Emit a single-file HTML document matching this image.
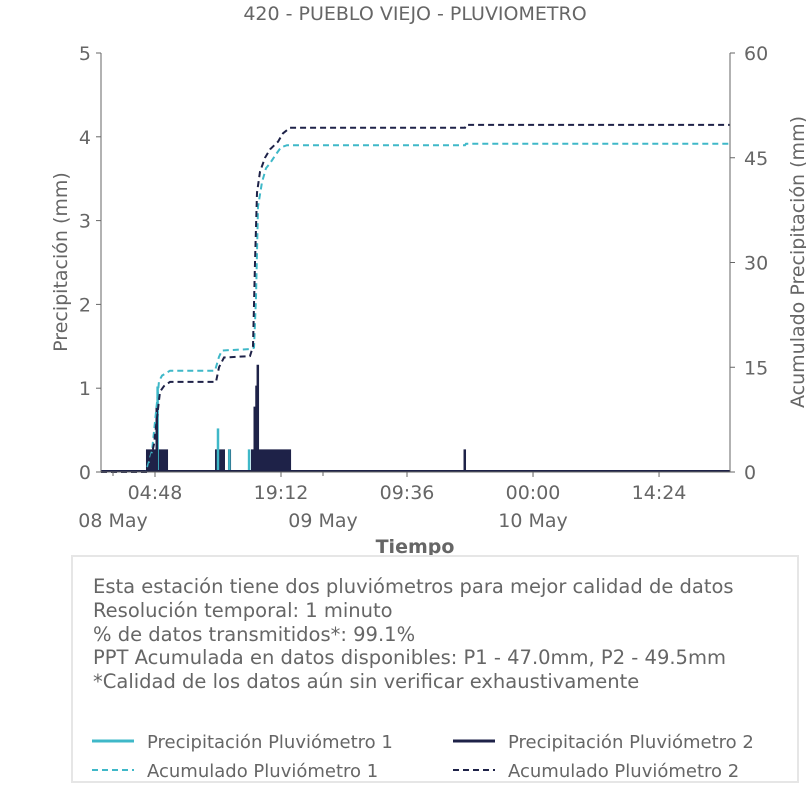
<!DOCTYPE html>
<html><head><meta charset="utf-8"><style>
body{margin:0;background:#fff;width:806px;height:806px;overflow:hidden;font-family:"DejaVu Sans","Liberation Sans",sans-serif}
</style></head><body>
<svg id="chart" width="806" height="806" xmlns="http://www.w3.org/2000/svg" font-family="DejaVu Sans, Liberation Sans, sans-serif">
<text x="415" y="20" text-anchor="middle" font-size="19" fill="#666">420 - PUEBLO VIEJO - PLUVIOMETRO</text>
<g id="plot"></g>
<text transform="translate(67,262) rotate(-90)" text-anchor="middle" font-size="19" fill="#666">Precipitación (mm)</text>
<text transform="translate(804,262) rotate(-90)" text-anchor="middle" font-size="19" fill="#666">Acumulado Precipitación (mm)</text>
<text x="415" y="553" text-anchor="middle" font-size="19" font-weight="bold" fill="#666">Tiempo</text>
<rect x="72" y="556" width="726" height="226" fill="#fff" stroke="#e6e6e6" stroke-width="2"/>
<g font-size="19.5" fill="#666">
<text x="93" y="593">Esta estación tiene dos pluviómetros para mejor calidad de datos</text>
<text x="93" y="617">Resolución temporal: 1 minuto</text>
<text x="93" y="641">% de datos transmitidos*: 99.1%</text>
<text x="93" y="664">PPT Acumulada en datos disponibles: P1 - 47.0mm, P2 - 49.5mm</text>
<text x="93" y="688">*Calidad de los datos aún sin verificar exhaustivamente</text>
</g>
<g font-size="18" fill="#666">
<g><line x1="92" y1="741" x2="134" y2="741" stroke="#3fb8c8" stroke-width="3"/><text x="147" y="748">Precipitación Pluviómetro 1</text></g>
<g><line x1="453" y1="741" x2="495" y2="741" stroke="#1e2248" stroke-width="3"/><text x="508" y="748">Precipitación Pluviómetro 2</text></g>
<g><line x1="92" y1="770" x2="134" y2="770" stroke="#3fb8c8" stroke-width="2" stroke-dasharray="6,4"/><text x="147" y="777">Acumulado Pluviómetro 1</text></g>
<g><line x1="453" y1="770" x2="495" y2="770" stroke="#1e2248" stroke-width="2" stroke-dasharray="6,4"/><text x="508" y="777">Acumulado Pluviómetro 2</text></g>
</g>
</svg>
<script>
// hours since 08 May 00:00
const accTimesP1 = [-1.37,3.77,4.46,5.03,5.26,5.6,6.52,11.66,12.12,12.46,15.66,16.12,16.34,16.57,17.03,17.49,17.94,18.63,19.2,19.89,40.23,40.34,70.51];
const accValsP1  = [0,0,3,10,13,13.8,14.5,14.5,16.5,17.4,17.6,17.8,25,38,41.5,43.5,44.2,45.5,46.5,46.8,46.8,47.0,47.0];
const accTimesP2 = [-1.37,4.0,4.69,5.14,5.37,5.83,6.52,11.77,12.12,12.69,15.66,16.0,16.23,16.46,16.8,17.37,17.94,18.86,19.43,20.23,40.23,40.34,70.51];
const accValsP2  = [0,0,4,9,11.5,12.3,12.9,12.9,15,16.4,16.6,18,30,40,43,45,46.2,47.3,48.5,49.3,49.3,49.7,49.7];
const blockStartP2 = [3.77,11.66,13.14,15.77];
const blockEndP2   = [6.29,12.8,13.49,20.35];
const blockValP2   = [0.27,0.27,0.27,0.27];
const spikeTimesP1 = [5.1,12.0,13.3,15.55];
const spikeValsP1  = [1.02,0.52,0.27,0.27];
const spikeTimesP2 = [5.0,16.2,16.4,16.55,40.2];
const spikeValsP2  = [0.78,0.78,1.03,1.28,0.27];
const yTicks = [0,1,2,3,4,5];
const y2Ticks = [0,15,30,45,60];
const xTickHours = [4.8,19.2,33.6,48,62.4];
const xTickLabels = ["04:48","19:12","09:36","00:00","14:24"];
const dateHours = [0,24,48];
const dateLabels = ["08 May","09 May","10 May"];

const X0=101,X1=730,Y0=472,Y1=53;
const hMin=-1.37,hMax=70.51;
const x=h=>X0+(h-hMin)/(hMax-hMin)*(X1-X0);
const y=v=>Y0-v/5*(Y0-Y1);
const y2=v=>Y0-v/60*(Y0-Y1);
const NS="http://www.w3.org/2000/svg";
const g=document.getElementById('plot');
function mk(t,a){const e=document.createElementNS(NS,t);for(const k in a)e.setAttribute(k,a[k]);g.appendChild(e);return e;}
const C1="#3fb8c8",C2="#1e2248",GR="#666";
// blocks
for(let i=0;i<blockStartP2.length;i++){
 const r=mk('rect',{x:x(blockStartP2[i]),y:y(blockValP2[i]),width:x(blockEndP2[i])-x(blockStartP2[i]),height:Y0-y(blockValP2[i]),fill:C2});
 
 
}
for(let i=0;i<spikeTimesP1.length;i++){
 const l=mk('line',{x1:x(spikeTimesP1[i]),x2:x(spikeTimesP1[i]),y1:Y0,y2:y(spikeValsP1[i]),stroke:C1,'stroke-width':2.5});
 
 
}
for(let i=0;i<spikeTimesP2.length;i++){
 const l=mk('line',{x1:x(spikeTimesP2[i]),x2:x(spikeTimesP2[i]),y1:Y0,y2:y(spikeValsP2[i]),stroke:C2,'stroke-width':2.5});
 
 
}
const base=mk('line',{x1:X0,x2:X1,y1:Y0-1,y2:Y0-1,stroke:C2,'stroke-width':2});


function path(ts,vs,col,name){
 const d=ts.map((t,i)=>(i?'L':'M')+x(t).toFixed(1)+','+y2(vs[i]).toFixed(1)).join(' ');
 const p=mk('path',{d:d,fill:'none',stroke:col,'stroke-width':2,'stroke-dasharray':'6,4'});
 
 
}
path(accTimesP1,accValsP1,C1,'cumulative-line-p1');
path(accTimesP2,accValsP2,C2,'cumulative-line-p2');
// axes
const ax=mk('path',{d:`M${X0},${Y1} L${X0},${Y0} L${X1},${Y0} L${X1},${Y1}`,fill:'none',stroke:GR,'stroke-width':1});


yTicks.forEach(v=>{
 mk('line',{x1:X0-5,x2:X0,y1:y(v),y2:y(v),stroke:GR});
 const t=mk('text',{x:X0-10,y:y(v)+7,'text-anchor':'end','font-size':19,fill:GR});t.textContent=v;
 
 
});
y2Ticks.forEach(v=>{
 mk('line',{x1:X1,x2:X1+5,y1:y2(v),y2:y2(v),stroke:GR});
 const t=mk('text',{x:X1+14,y:y2(v)+7,'font-size':19,fill:GR});t.textContent=v;
 
 
});
xTickHours.forEach((h,i)=>{
 mk('line',{x1:x(h),x2:x(h),y1:Y0,y2:Y0+5,stroke:GR});
 const t=mk('text',{x:x(h),y:Y0+27,'text-anchor':'middle','font-size':19,fill:GR});t.textContent=xTickLabels[i];
 
 
});
dateHours.forEach((h,i)=>{
 mk('line',{x1:x(h),x2:x(h),y1:Y0,y2:Y0+4,stroke:GR});
 const t=mk('text',{x:x(h),y:Y0+55,'text-anchor':'middle','font-size':19,fill:GR});t.textContent=dateLabels[i];
 
 
});
</script>
</body></html>
